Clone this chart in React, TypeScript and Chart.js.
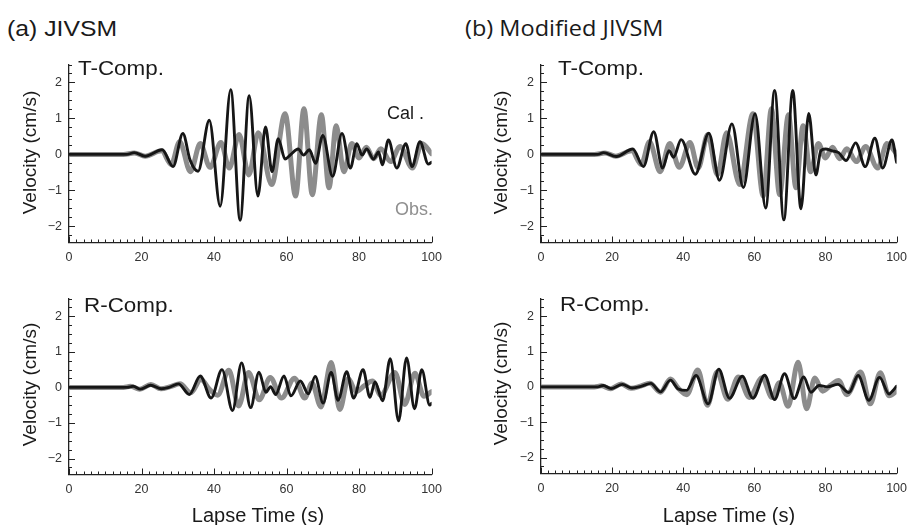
import React, { useEffect, useRef } from "react";
import { Chart, registerables } from "chart.js";

Chart.register(...registerables);

// ---------- Data (time in s, velocity in cm/s) ----------
// Observed T-component (same record in both panels)
const obsT_time = [0, 15, 18, 21, 25.5, 28.2, 30.5, 33.5, 36.2, 38.9, 41.9, 44.2, 46.9, 49.6, 52.2, 55.9, 59.6, 62.5, 64.8, 67.1, 69.6, 71.7, 73.7, 75.8, 78, 80, 82, 84, 86, 88.7, 91.3, 94.7, 97.3, 100];
const obsT_vel = [0, 0, 0.04, -0.05, 0.1, -0.28, 0.35, -0.48, 0.3, -0.36, 0.33, -0.38, 0.55, -0.57, 0.6, -0.84, 1.13, -1.16, 1.27, -1.12, 1.1, -0.93, 0.8, -0.48, 0.3, -0.1, 0.2, -0.12, 0.16, -0.2, 0.22, -0.38, 0.3, 0.02];

// Observed R-component
const obsR_time = [0, 15, 17, 19.5, 22.6, 25.3, 28, 30.6, 33.6, 36.4, 38.7, 41, 44.1, 46.8, 49.5, 52.5, 55.5, 58.6, 62.2, 65.0, 67.0, 69.5, 72.3, 74.7, 77.0, 79.2, 81.5, 83.7, 86.0, 89.9, 92.6, 95.4, 97.9, 100];
const obsR_vel = [0, 0, 0.03, -0.05, 0.08, -0.04, 0.02, 0.1, -0.15, 0.22, -0.05, -0.22, 0.48, -0.52, 0.42, -0.35, 0.28, -0.3, 0.26, -0.3, 0.12, -0.55, 0.7, -0.62, 0.25, -0.12, 0.05, 0.18, -0.22, 0.42, -0.48, 0.4, -0.25, -0.12];

// Calculated, JIVSM, T-component
const calTa_time = [0, 16, 18, 21, 25.7, 28.7, 31.4, 33.4, 35.6, 38.7, 41.7, 44.6, 47.2, 49.7, 52.1, 54.2, 56.0, 57.7, 59.6, 61.2, 63.2, 64.7, 66.3, 68.0, 70.0, 72.7, 75.3, 77.6, 79.4, 80.8, 82.1, 84.0, 85.4, 86.4, 88.1, 90.4, 92.9, 94.6, 96.8, 99.1, 100];
const calTa_vel = [0, 0, 0.05, -0.05, 0.13, -0.34, 0.58, -0.16, -0.47, 0.95, -1.44, 1.8, -1.83, 1.63, -1.16, 0.76, -0.48, 0.44, -0.13, 0.0, 0.15, -0.02, 0.13, -0.25, 0.53, -0.61, 0.58, -0.38, 0.3, -0.02, 0.15, -0.13, 0.07, -0.29, 0.4, -0.38, 0.3, -0.34, 0.35, -0.27, -0.22];

// Calculated, Modified JIVSM, T-component
const calTb_time = [0, 16, 17.6, 21.2, 25.8, 28.8, 31.7, 34.2, 36.0, 37.3, 39.4, 43.4, 47.2, 50.2, 53.7, 56.9, 60.2, 63.2, 65.7, 68.3, 70.8, 73.1, 75.3, 77.3, 78.7, 80.0, 81.9, 83.7, 85.8, 88.5, 91.2, 93.9, 96.1, 98.7, 100];
const calTb_vel = [0, 0, 0.05, -0.06, 0.15, -0.34, 0.63, -0.38, 0.1, -0.08, 0.41, -0.55, 0.59, -0.72, 0.85, -0.92, 1.13, -1.49, 1.78, -1.82, 1.78, -1.51, 1.14, -0.57, 0.1, 0.15, 0.1, 0.05, -0.17, 0.32, -0.34, 0.45, -0.38, 0.4, -0.22];

// Calculated, JIVSM, R-component
const calRa_time = [0, 16, 17.7, 19.7, 22.5, 25.5, 27.6, 30.2, 33.2, 36.2, 39.2, 42.2, 45.1, 47.6, 50.1, 52.4, 54.3, 55.6, 57.0, 59.3, 61.2, 63.8, 66.0, 67.9, 70.1, 72.3, 74.2, 76.6, 78.5, 81.1, 83.0, 84.4, 86.5, 88.6, 90.9, 93.1, 95.3, 97.3, 99.5, 100];
const calRa_vel = [0, 0, 0.03, -0.05, 0.06, -0.04, 0.0, 0.1, -0.2, 0.32, -0.3, 0.5, -0.65, 0.69, -0.57, 0.43, -0.14, 0.02, -0.2, 0.32, -0.24, 0.18, -0.18, 0.31, -0.44, 0.42, -0.36, 0.44, -0.3, 0.5, -0.28, 0.15, -0.38, 0.81, -0.94, 0.83, -0.6, 0.5, -0.5, -0.45];

// Calculated, Modified JIVSM, R-component
const calRb_time = [0, 16, 17.5, 19.7, 22.9, 25.6, 28.3, 30.9, 33.6, 36.4, 38.6, 40.9, 43.6, 47.0, 50.0, 53.0, 56.6, 59.6, 62.9, 65.7, 68.5, 71.2, 73.9, 75.9, 78.2, 80.5, 83.5, 86.6, 89.2, 92.2, 95.2, 97.9, 99.0, 100];
const calRb_vel = [0, 0, 0.04, -0.05, 0.07, -0.03, 0.02, 0.1, -0.14, 0.19, -0.06, -0.1, 0.32, -0.48, 0.5, -0.32, 0.3, -0.32, 0.33, -0.36, 0.37, -0.33, 0.28, -0.15, 0.04, 0.0, 0.07, -0.16, 0.32, -0.38, 0.27, -0.2, -0.1, 0.02];

// Axis ticks
const xTickValues = [0, 20, 40, 60, 80, 100];
const yTickValues = [-2, -1, 0, 1, 2];
const X_MIN = 0, X_MAX = 100, Y_MIN = -2.45, Y_MAX = 2.5;

// ---------- helpers ----------
const SANS = '"Liberation Sans", Arial, Helvetica, sans-serif';
const toPoints = (ts: number[], vs: number[]) => ts.map((t, i) => ({ x: t, y: vs[i] }));

const inwardTicks = {
  id: "inwardTicks",
  beforeDatasetsDraw(chart: any) {
    const { ctx, chartArea, scales } = chart;
    const x = scales.x, y = scales.y;
    ctx.save();
    ctx.strokeStyle = "#222";
    ctx.lineWidth = 1;
    ctx.beginPath();
    for (let k = 0; k <= 50; k++) {
      const v = k * 2;
      const px = Math.round(x.getPixelForValue(v)) + 0.5;
      const len = k % 10 === 0 ? 6 : 3;
      ctx.moveTo(px, chartArea.bottom);
      ctx.lineTo(px, chartArea.bottom - len);
    }
    for (let k = -12; k <= 12; k++) {
      const v = k * 0.25;
      if (v < Y_MIN - 1e-6 || v > Y_MAX + 1e-6) continue;
      const py = Math.round(y.getPixelForValue(v)) + 0.5;
      const len = k % 4 === 0 ? 6 : 3;
      ctx.moveTo(chartArea.left, py);
      ctx.lineTo(chartArea.left + len, py);
    }
    ctx.stroke();
    ctx.restore();
  },
};

type Box = { left: number; top: number; width: number; height: number };
type Area = { left: number; top: number; right: number; bottom: number };

function Panel(props: { box: Box; area: Area; cal: { x: number; y: number }[]; obs: { x: number; y: number }[] }) {
  const ref = useRef<HTMLCanvasElement | null>(null);
  const { box, area, cal, obs } = props;
  useEffect(() => {
    const xH = 30;
    const yW = area.left - box.left;
    const padTop = area.top - box.top;
    const padRight = box.left + box.width - area.right;
    const padBottom = box.top + box.height - area.bottom - xH;
    const chart = new Chart(ref.current as HTMLCanvasElement, {
      type: "line",
      data: {
        datasets: [
          {
            label: "Cal.",
            data: cal,
            borderColor: "#161616",
            borderWidth: 2.9,
            order: 0,
            cubicInterpolationMode: "monotone",
            pointRadius: 0,
            fill: false,
          },
          {
            label: "Obs.",
            data: obs,
            borderColor: "#8c8c8c",
            borderWidth: 5,
            order: 1,
            cubicInterpolationMode: "monotone",
            pointRadius: 0,
            fill: false,
          },
        ],
      } as any,
      options: {
        animation: false,
        responsive: false,
        maintainAspectRatio: false,
        layout: { padding: { left: 0, top: padTop, right: padRight, bottom: padBottom } },
        plugins: { legend: { display: false }, tooltip: { enabled: false } },
        elements: { line: { borderCapStyle: "round", borderJoinStyle: "round" } },
        scales: {
          x: {
            type: "linear",
            min: X_MIN,
            max: X_MAX,
            afterBuildTicks: (s: any) => {
              s.ticks = xTickValues.map((v) => ({ value: v }));
            },
            afterFit: (s: any) => {
              s.height = xH;
            },
            grid: { display: false, drawTicks: false },
            border: { display: true, color: "#222", width: 1.3 },
            ticks: {
              padding: 8,
              color: "#333",
              font: { family: SANS, size: 12.5 },
              maxRotation: 0,
              autoSkip: false,
            },
          },
          y: {
            type: "linear",
            min: Y_MIN,
            max: Y_MAX,
            afterBuildTicks: (s: any) => {
              s.ticks = yTickValues.map((v) => ({ value: v }));
            },
            afterFit: (s: any) => {
              s.width = yW;
            },
            grid: { display: false, drawTicks: false },
            border: { display: true, color: "#222", width: 1.3 },
            ticks: {
              padding: 7,
              color: "#333",
              font: { family: SANS, size: 12.5 },
              callback: (v: any) => (Number(v) < 0 ? "\u2212" + Math.abs(Number(v)) : String(v)),
            },
          },
        },
      } as any,
      plugins: [inwardTicks],
    });
    return () => chart.destroy();
  }, []);
  return (
    <canvas
      ref={ref}
      width={box.width}
      height={box.height}
      style={{ position: "absolute", left: box.left, top: box.top, width: box.width, height: box.height }}
    />
  );
}

function Label(props: {
  text: string;
  left: number;
  baseline: number;
  size: number;
  family?: string;
  color?: string;
  sx?: number;
  ascentFactor?: number;
}) {
  const { text, left, baseline, size, family = SANS, color = "#1a1a1a", sx = 1, ascentFactor = 0.8465 } = props;
  return (
    <div
      style={{
        position: "absolute",
        left,
        top: baseline - ascentFactor * size,
        fontFamily: family,
        fontSize: size,
        lineHeight: size + "px",
        whiteSpace: "nowrap",
        color,
        transform: `scaleX(${sx})`,
        transformOrigin: "left top",
      }}
    >
      {text}
    </div>
  );
}

function YTitle(props: { cx: number; cy: number }) {
  const w = 180, s = 19;
  return (
    <div
      style={{
        position: "absolute",
        left: props.cx - w / 2,
        top: props.cy - s / 2,
        width: w,
        height: s,
        lineHeight: s + "px",
        fontSize: s,
        fontFamily: SANS,
        color: "#1a1a1a",
        textAlign: "center",
        whiteSpace: "nowrap",
        transform: "rotate(-90deg)",
        transformOrigin: "center center",
      }}
    >
      Velocity (cm/s)
    </div>
  );
}

function XTitle(props: { cx: number; baseline: number }) {
  const w = 220, s = 20;
  return (
    <div
      style={{
        position: "absolute",
        left: props.cx - w / 2,
        top: props.baseline - 0.8465 * s,
        width: w,
        lineHeight: s + "px",
        fontSize: s,
        fontFamily: SANS,
        color: "#1a1a1a",
        textAlign: "center",
        whiteSpace: "nowrap",
      }}
    >
      Lapse Time (s)
    </div>
  );
}

export default function App() {
  const obsT = toPoints(obsT_time, obsT_vel);
  const obsR = toPoints(obsR_time, obsR_vel);
  return (
    <div style={{ position: "absolute", left: 0, top: 0, width: 917, height: 525, background: "#fff", overflow: "hidden" }}>
      <Panel box={{ left: 20, top: 50, width: 430, height: 230 }} area={{ left: 69, top: 62, right: 433, bottom: 242.5 }} cal={toPoints(calTa_time, calTa_vel)} obs={obsT} />
      <Panel box={{ left: 490, top: 50, width: 425, height: 230 }} area={{ left: 541, top: 62, right: 905, bottom: 242.5 }} cal={toPoints(calTb_time, calTb_vel)} obs={obsT} />
      <Panel box={{ left: 20, top: 284, width: 430, height: 225 }} area={{ left: 69, top: 296, right: 433, bottom: 474.5 }} cal={toPoints(calRa_time, calRa_vel)} obs={obsR} />
      <Panel box={{ left: 490, top: 284, width: 425, height: 225 }} area={{ left: 541, top: 295, right: 905, bottom: 473.5 }} cal={toPoints(calRb_time, calRb_vel)} obs={obsR} />

      <Label text="(a) JIVSM" left={7} baseline={37} size={22.5} sx={1.1} />
      <Label text="(b) Modified JIVSM" left={465} baseline={37} size={21} family={'"Open Sans", sans-serif'} sx={1.12} ascentFactor={0.888} />

      <Label text="T-Comp." left={78} baseline={76} size={19.5} sx={1.15} />
      <Label text="T-Comp." left={558} baseline={76} size={19.5} sx={1.15} />
      <Label text="R-Comp." left={84} baseline={313} size={19.5} sx={1.15} />
      <Label text="R-Comp." left={560} baseline={312} size={19.5} sx={1.15} />

      <Label text="Cal ." left={387} baseline={119} size={18} />
      <Label text="Obs." left={395} baseline={215} size={18} color="#8f8f8f" />

      <YTitle cx={28.5} cy={152} />
      <YTitle cx={500} cy={152} />
      <YTitle cx={28.5} cy={384} />
      <YTitle cx={500} cy={383} />

      <XTitle cx={258} baseline={522} />
      <XTitle cx={729} baseline={522} />
    </div>
  );
}
